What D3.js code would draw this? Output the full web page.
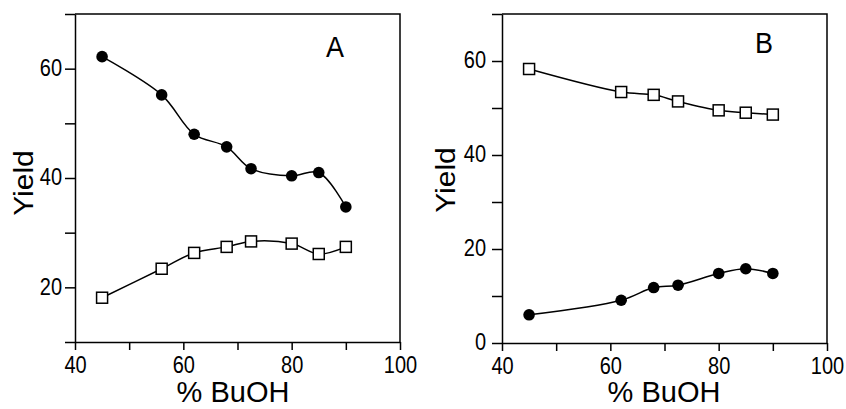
<!DOCTYPE html>
<html>
<head>
<meta charset="utf-8">
<script src="https://cdn.jsdelivr.net/npm/d3@7"></script>
<style>
body{margin:0;background:#fff}
svg{display:block;font-family:"Liberation Sans",Arial,sans-serif}
</style>
</head>
<body>
<svg id="chart" width="846" height="409"></svg>
<script>
// % BuOH values
var xA=[45,56,62,68,72.5,80,85,90]
var xB=[45,62,68,72.5,80,85,90]
// panel A
var circA=[62.2,55.2,48,45.7,41.7,40.4,41,34.7]
var squareA=[18.1,23.4,26.3,27.4,28.4,28,26.1,27.4]
// panel B
var squareB=[58.3,53.4,52.8,51.4,49.5,49,48.6]
var circB=[6,9.1,11.8,12.3,14.8,15.8,14.8]
var xTicks=[40,50,60,70,80,90,100]
var yTicksA=[10,20,30,40,50,60,70]
var yTicksB=[0,10,20,30,40,50,60,70]

var svg=d3.select('#chart')
var stretch=1.15  // glyphs in the figure are a bit taller than wide

var panels=[
    {name:'A',x:xA,circ:circA,sq:squareA,ydom:[10,70],yt:yTicksA,
     left:75,right:400,top:14,bottom:342,labX:335,labY:57,titleX:233,yTitleX:33,yTitleY:183,ypad:3},
    {name:'B',x:xB,circ:circB,sq:squareB,ydom:[0,70],yt:yTicksB,
     left:502,right:827,top:14,bottom:343,labX:764,labY:53,titleX:664,yTitleX:455,yTitleY:180,ypad:6}
]

panels.forEach(p=>draw(p))

function draw(p)
{
    var x=d3.scaleLinear().domain([40,100]).range([p.left,p.right])
    var y=d3.scaleLinear().domain(p.ydom).range([p.bottom,p.top])
    var g=svg.append('g')

    // frame (top + right)
    g.append('path')
        .attr('d',`M${p.left},${p.top}H${p.right}V${p.bottom}`)
        .attr('fill','none').attr('stroke','#000').attr('stroke-width',1.5)

    var ax=g.append('g').attr('transform',`translate(0,${p.bottom})`)
        .call(d3.axisBottom(x).tickValues(xTicks).tickSize(8).tickSizeOuter(0)
            .tickFormat(d=>d%20==0?d:''))
    var ay=g.append('g').attr('transform',`translate(${p.left},0)`)
        .call(d3.axisLeft(y).tickValues(p.yt).tickSize(10).tickSizeOuter(0).tickPadding(p.ypad)
            .tickFormat(d=>d%20==0?d:''))
    ;[ax,ay].forEach(a=>{
        a.selectAll('path,line').attr('stroke','#000').attr('stroke-width',1.5)
        a.selectAll('text').attr('fill','#000').attr('font-size',20)
            .attr('font-family','"Liberation Sans",Arial,sans-serif')
            .attr('transform',`scale(1,${stretch})`)
    })
    ax.selectAll('text').attr('dy',0).attr('y',31/stretch)
    ay.selectAll('text').attr('dy','0.3em')

    var line=d3.line().x(d=>x(d[0])).y(d=>y(d[1])).curve(d3.curveCatmullRom.alpha(0.5))
    var cData=p.x.map((v,i)=>[v,p.circ[i]])
    var sData=p.x.map((v,i)=>[v,p.sq[i]])
    ;[cData,sData].forEach(dd=>{
        g.append('path').attr('d',line(dd)).attr('fill','none')
            .attr('stroke','#000').attr('stroke-width',1.5)
    })
    g.selectAll('circle.pt').data(cData).join('circle')
        .attr('cx',d=>x(d[0])).attr('cy',d=>y(d[1])).attr('r',5.8).attr('fill','#000')
    g.selectAll('rect.pt').data(sData).join('rect')
        .attr('x',d=>x(d[0])-5.5).attr('y',d=>y(d[1])-5.5)
        .attr('width',11).attr('height',11)
        .attr('fill','#fff').attr('stroke','#000').attr('stroke-width',1.5)

    g.append('text').attr('transform',`translate(${p.labX},${p.labY}) scale(1,1.08)`)
        .attr('text-anchor','middle').attr('font-size',27).text(p.name)
    g.append('text').attr('transform',`translate(${p.titleX},402)`)
        .attr('text-anchor','middle').attr('font-size',29).text('% BuOH')
    g.append('text').attr('transform',`translate(${p.yTitleX},${p.yTitleY}) rotate(-90) scale(1.07,1)`)
        .attr('text-anchor','middle').attr('font-size',28).text('Yield')
}
</script>
</body>
</html>
